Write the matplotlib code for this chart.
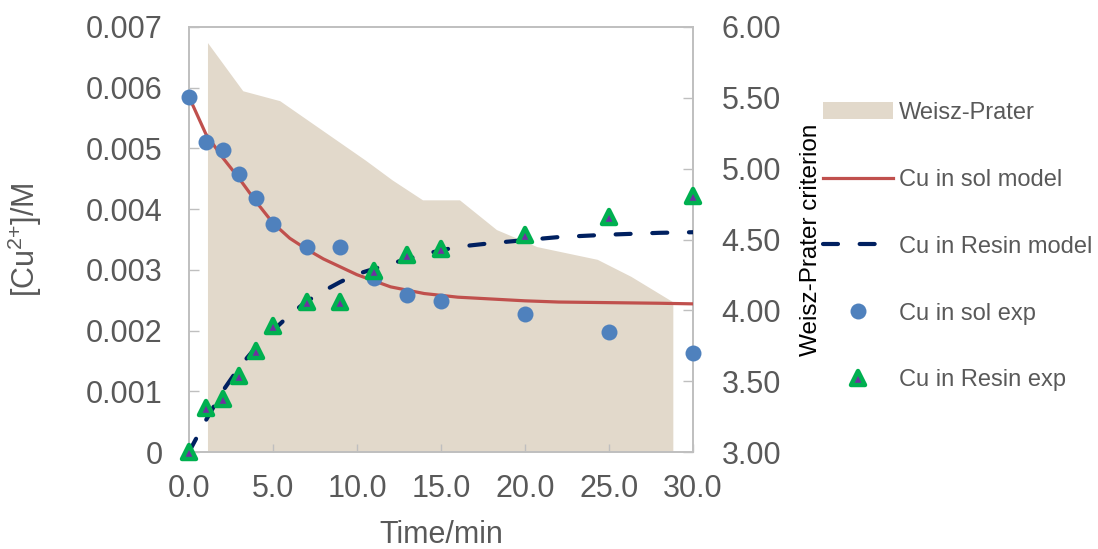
import matplotlib
matplotlib.use("Agg")
import matplotlib.pyplot as plt
from matplotlib.lines import Line2D
from matplotlib.patches import Patch
from matplotlib.markers import MarkerStyle
from matplotlib.ticker import FuncFormatter, FormatStrFormatter, MultipleLocator

plt.rcParams['font.family'] = ['Liberation Sans', 'DejaVu Sans']

# experimental points
time_exp = [0, 1, 2, 3, 4, 5, 7, 9, 11, 13, 15, 20, 25, 30]
cu_sol_exp = [0.00585, 0.00511, 0.00498, 0.00458, 0.00418, 0.00376, 0.00337,
              0.00337, 0.00286, 0.00259, 0.00248, 0.00227, 0.00197, 0.00163]
cu_resin_exp = [0.0, 0.00072, 0.00087, 0.00125, 0.00166, 0.00207, 0.00247,
                0.00247, 0.00298, 0.00325, 0.00335, 0.00357, 0.00387, 0.00421]

# model curves
time_model = [0, 1, 2, 3, 4, 5, 6, 7, 8, 9, 10, 12, 14, 16, 18, 20, 22, 25, 28, 30]
cu_sol_model = [0.00585, 0.00524, 0.00485, 0.0045, 0.00412, 0.00377, 0.00352,
                0.00334, 0.00318, 0.00305, 0.00292, 0.00272, 0.00261, 0.00255,
                0.00252, 0.00249, 0.00247, 0.00246, 0.00245, 0.00244]
cu_resin_model = [0.0, 0.00052, 0.001, 0.0014, 0.00173, 0.002, 0.00226, 0.00248,
                  0.00265, 0.0028, 0.00293, 0.0031, 0.00326, 0.00338, 0.00344,
                  0.00349, 0.00354, 0.00358, 0.00361, 0.00362]

# Weisz-Prater criterion (secondary axis)
wp_time = [1.1, 3.2, 5.4, 10.5, 12.1, 13.9, 16.1, 18.3, 20.7, 22.3, 24.3, 26.3, 28.8]
wp_value = [5.89, 5.55, 5.48, 5.06, 4.92, 4.78, 4.78, 4.57, 4.45, 4.41, 4.36, 4.24, 4.06]

grey = '#595959'
spine_col = '#BFBFBF'
blue = '#4F81BD'
red = '#C0504D'
navy = '#002060'
green = '#00B050'
purple = '#7030A0'
sand = '#E2D9CB'

fig = plt.figure(figsize=(10.98, 5.49), dpi=100)
ax = fig.add_axes([189 / 1098, 1 - 452 / 549, 504 / 1098, 425 / 549])
ax2 = ax.twinx()
ax.set_zorder(ax2.get_zorder() + 1)
ax.patch.set_visible(False)

# area
ax2.fill_between(wp_time, 3.0, wp_value, color=sand, linewidth=0)

tri = MarkerStyle('^', joinstyle='round')

ax.plot(time_model, cu_sol_model, color=red, lw=2.3, solid_capstyle='round',
        solid_joinstyle='round', zorder=3)
ax.plot(time_model, cu_resin_model, color=navy, lw=3, dashes=(3.6, 5.2),
        dash_capstyle='round', zorder=3)
ax.plot(time_exp, cu_sol_exp, 'o', color=blue, ms=11.5, mew=0, clip_on=False, zorder=4)
ax.plot(time_exp, cu_resin_exp, linestyle='none', marker=tri, ms=9.5, mfc=purple,
        mec=green, mew=3.2, clip_on=False, zorder=5)

ax.set_xlim(0, 30)
ax.set_ylim(0, 0.007)
ax2.set_ylim(3.0, 6.0)

ax.xaxis.set_major_locator(MultipleLocator(5))
ax.yaxis.set_major_locator(MultipleLocator(0.001))
ax2.yaxis.set_major_locator(MultipleLocator(0.5))
ax.xaxis.set_major_formatter(FormatStrFormatter('%.1f'))
ax.yaxis.set_major_formatter(FuncFormatter(lambda v, p: '0' if abs(v) < 1e-9 else '%.3f' % v))
ax2.yaxis.set_major_formatter(FormatStrFormatter('%.2f'))

for a in (ax, ax2):
    for s in a.spines.values():
        s.set_color(spine_col)
        s.set_linewidth(1.2)

ax.tick_params(axis='y', direction='in', length=7, width=1, color=spine_col,
               labelsize=22, labelcolor=grey, pad=19)
ax.tick_params(axis='x', direction='in', length=6, width=1, color=spine_col,
               labelsize=22, labelcolor=grey, pad=16)
ax2.tick_params(axis='y', direction='in', length=7, width=1, color=spine_col,
                labelsize=22, labelcolor=grey, pad=20.5)

ax.set_xlabel('Time/min', fontsize=22, color=grey)
ax.xaxis.set_label_coords(0.5, -0.16)
ax.set_ylabel(r'[Cu$^{\mathregular{2{+}}}$]/M', fontsize=22, color=grey)
ax.yaxis.set_label_coords(-0.288, 0.5)
ax2.set_ylabel('Weisz-Prater criterion', fontsize=17.5, color='black')
ax2.yaxis.set_label_coords(1.212, 0.5)

handles = [
    Patch(facecolor=sand, edgecolor='none'),
    Line2D([], [], color=red, lw=2.3),
    Line2D([], [], color=navy, lw=3, dashes=(3.6, 5.2), dash_capstyle='round'),
    Line2D([], [], linestyle='none', marker='o', color=blue, ms=11.5, mew=0),
    Line2D([], [], linestyle='none', marker=tri, ms=9.5, mfc=purple, mec=green, mew=3.2),
]
labels = ['Weisz-Prater', 'Cu in sol model', 'Cu in Resin model', 'Cu in sol exp',
          'Cu in Resin exp']
leg = fig.legend(handles, labels, loc='upper left', bbox_to_anchor=(823 / 1098, 1 - 102 / 549),
                 frameon=False, fontsize=17, handlelength=2.95, handletextpad=0.25,
                 labelspacing=1.9, borderpad=0, borderaxespad=0)
for t in leg.get_texts():
    t.set_color(grey)

fig.savefig('out.png', dpi=100)
